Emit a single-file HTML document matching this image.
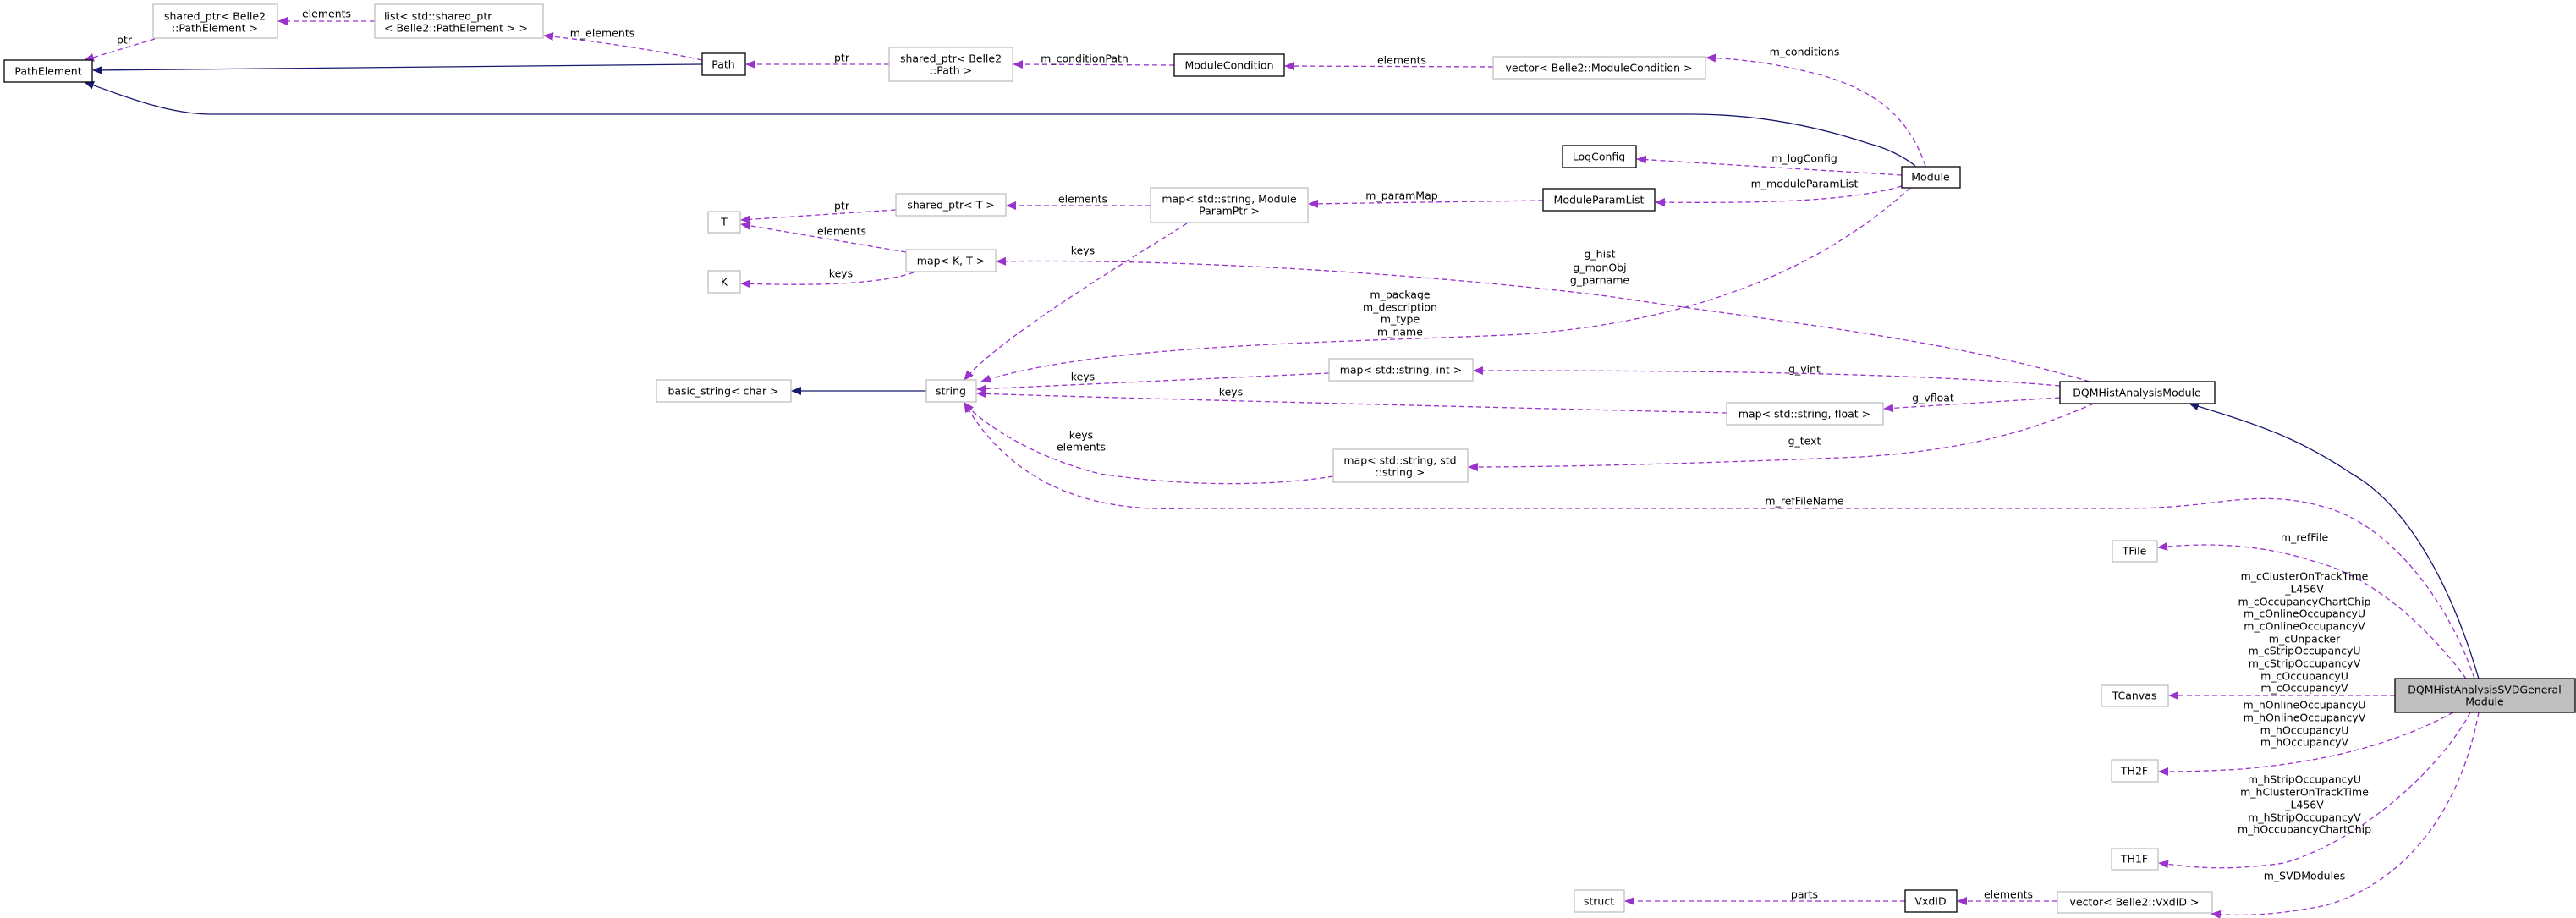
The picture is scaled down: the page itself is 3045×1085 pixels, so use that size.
<!DOCTYPE html>
<html><head><meta charset="utf-8"><style>
html,body{margin:0;padding:0;background:#fff;}
svg{display:block;}
text{font-family:"DejaVu Sans","Liberation Sans",sans-serif;font-size:12.5px;fill:#000;}
.g{fill:#fff;stroke:#bfbfbf;stroke-width:1.3;}
.b{fill:#fff;stroke:#000;stroke-width:1.3;}
.d{fill:none;stroke:#9a32cd;stroke-width:1.3;stroke-dasharray:6,4;marker-end:url(#pa);}
.i{fill:none;stroke:#191970;stroke-width:1.3;marker-end:url(#na);}
</style></head><body>
<svg width="3045" height="1085" viewBox="0 0 3045 1085" xmlns="http://www.w3.org/2000/svg">
<defs>
<marker id="pa" markerWidth="12" markerHeight="10" refX="11" refY="5" orient="auto" markerUnits="userSpaceOnUse"><path d="M0,0 L12,5 L0,10 z" fill="#9a32cd"/></marker>
<marker id="na" markerWidth="12" markerHeight="10" refX="11" refY="5" orient="auto" markerUnits="userSpaceOnUse"><path d="M0,0 L12,5 L0,10 z" fill="#191970"/></marker>
</defs>

<!-- edges -->
<path class="d" d="M443,25 L329,25"/>
<path class="d" d="M183,46 L100,71"/>
<path class="d" d="M830,71 C780,60 700,48 643,42"/>
<path class="i" d="M830,76 L110,83"/>
<path class="d" d="M1051,76 L882,76"/>
<path class="d" d="M1388,77 L1198,76"/>
<path class="d" d="M1765,79 L1519,78"/>
<path class="d" d="M2276,196 C2260,150 2230,110 2150,88 C2100,75 2060,70 2017,68"/>
<path class="i" d="M2264,196 C2250,185 2230,175 2210,170 C2150,150 2080,135 2000,135 L250,135 C200,135 150,115 100,97"/>
<path class="d" d="M2248,207 L1935,188"/>
<path class="d" d="M2248,220 C2180,240 2060,240 1957,239"/>
<path class="d" d="M1824,237 L1547,241"/>
<path class="d" d="M1360,243 L1190,243"/>
<path class="d" d="M1059,248 L876,260"/>
<path class="d" d="M1071,298 L876,265"/>
<path class="d" d="M1080,322 C1040,336 960,338 876,335"/>
<path class="d" d="M1403,264 C1330,310 1180,400 1140,449"/>
<path class="d" d="M2258,222 C2150,320 2000,380 1800,395 C1600,405 1300,405 1160,451"/>
<path class="d" d="M2470,451 C2300,400 2100,380 1900,350 C1700,325 1400,305 1178,309"/>
<path class="i" d="M1095,462 L936,462"/>
<path class="d" d="M2435,456 C2250,440 2000,438 1742,438"/>
<path class="d" d="M1571,441 L1155,460"/>
<path class="d" d="M2435,470 L2227,483"/>
<path class="d" d="M2041,488 C1700,480 1300,470 1155,465"/>
<path class="d" d="M2475,477 C2420,500 2350,530 2200,540 C2000,548 1850,552 1736,552"/>
<path class="d" d="M1576,563 C1500,575 1400,575 1300,560 C1220,540 1160,500 1140,476"/>
<path class="i" d="M2930,802 C2900,700 2850,600 2780,560 C2720,520 2680,505 2588,477"/>
<path class="d" d="M2925,802 C2890,700 2820,620 2750,600 C2700,585 2660,588 2600,596 C2560,600 2540,601 2500,601 L1400,601 C1300,605 1200,580 1140,476"/>
<path class="d" d="M2915,802 C2870,740 2800,680 2740,665 C2680,645 2620,640 2551,647"/>
<path class="d" d="M2831,822 L2564,822"/>
<path class="d" d="M2900,842 C2830,880 2750,900 2650,909 C2600,912 2570,912 2552,912"/>
<path class="d" d="M2920,842 C2890,900 2800,990 2700,1020 C2630,1030 2590,1025 2552,1020"/>
<path class="d" d="M2930,842 C2910,950 2850,1040 2750,1070 C2680,1084 2640,1082 2614,1080"/>
<path class="d" d="M2432,1065 L2314,1065"/>
<path class="d" d="M2252,1065 L1921,1065"/>

<!-- nodes -->
<rect class="g" x="181" y="5" width="147" height="40"/>
<text x="254" y="19" text-anchor="middle" dominant-baseline="central">shared_ptr&lt; Belle2</text>
<text x="254" y="33" text-anchor="middle" dominant-baseline="central">::PathElement &gt;</text>
<rect class="g" x="443" y="5" width="199" height="40"/>
<text x="454" y="19" dominant-baseline="central">list&lt; std::shared_ptr</text>
<text x="454" y="33" dominant-baseline="central">&lt; Belle2::PathElement &gt; &gt;</text>
<rect class="b" x="5" y="71" width="104" height="26"/>
<text x="57" y="84" text-anchor="middle" dominant-baseline="central">PathElement</text>
<rect class="b" x="830" y="63" width="51" height="26"/>
<text x="855" y="76" text-anchor="middle" dominant-baseline="central">Path</text>
<rect class="g" x="1051" y="56" width="146" height="40"/>
<text x="1124" y="69" text-anchor="middle" dominant-baseline="central">shared_ptr&lt; Belle2</text>
<text x="1124" y="83" text-anchor="middle" dominant-baseline="central">::Path &gt;</text>
<rect class="b" x="1388" y="64" width="130" height="26"/>
<text x="1453" y="77" text-anchor="middle" dominant-baseline="central">ModuleCondition</text>
<rect class="g" x="1765" y="67" width="251" height="26"/>
<text x="1890" y="80" text-anchor="middle" dominant-baseline="central">vector&lt; Belle2::ModuleCondition &gt;</text>
<rect class="b" x="1847" y="172" width="87" height="26"/>
<text x="1890" y="185" text-anchor="middle" dominant-baseline="central">LogConfig</text>
<rect class="b" x="2248" y="197" width="69" height="25"/>
<text x="2282" y="209" text-anchor="middle" dominant-baseline="central">Module</text>
<rect class="b" x="1824" y="223" width="132" height="26"/>
<text x="1890" y="236" text-anchor="middle" dominant-baseline="central">ModuleParamList</text>
<rect class="g" x="1360" y="222" width="186" height="41"/>
<text x="1453" y="235" text-anchor="middle" dominant-baseline="central">map&lt; std::string, Module</text>
<text x="1453" y="249" text-anchor="middle" dominant-baseline="central">ParamPtr &gt;</text>
<rect class="g" x="1059" y="229" width="130" height="26"/>
<text x="1124" y="242" text-anchor="middle" dominant-baseline="central">shared_ptr&lt; T &gt;</text>
<rect class="g" x="837" y="250" width="38" height="25"/>
<text x="856" y="262" text-anchor="middle" dominant-baseline="central">T</text>
<rect class="g" x="1071" y="295" width="106" height="26"/>
<text x="1124" y="308" text-anchor="middle" dominant-baseline="central">map&lt; K, T &gt;</text>
<rect class="g" x="837" y="320" width="38" height="26"/>
<text x="856" y="333" text-anchor="middle" dominant-baseline="central">K</text>
<rect class="g" x="776" y="449" width="159" height="26"/>
<text x="855" y="462" text-anchor="middle" dominant-baseline="central">basic_string&lt; char &gt;</text>
<rect class="g" x="1095" y="449" width="59" height="26"/>
<text x="1124" y="462" text-anchor="middle" dominant-baseline="central">string</text>
<rect class="g" x="1571" y="424" width="170" height="26"/>
<text x="1656" y="437" text-anchor="middle" dominant-baseline="central">map&lt; std::string, int &gt;</text>
<rect class="b" x="2435" y="451" width="183" height="26"/>
<text x="2526" y="464" text-anchor="middle" dominant-baseline="central">DQMHistAnalysisModule</text>
<rect class="g" x="2041" y="476" width="185" height="26"/>
<text x="2133" y="489" text-anchor="middle" dominant-baseline="central">map&lt; std::string, float &gt;</text>
<rect class="g" x="1576" y="531" width="159" height="39"/>
<text x="1655" y="544" text-anchor="middle" dominant-baseline="central">map&lt; std::string, std</text>
<text x="1655" y="558" text-anchor="middle" dominant-baseline="central">::string &gt;</text>
<rect class="g" x="2497" y="639" width="53" height="25"/>
<text x="2523" y="651" text-anchor="middle" dominant-baseline="central">TFile</text>
<rect class="g" x="2484" y="810" width="79" height="25"/>
<text x="2523" y="822" text-anchor="middle" dominant-baseline="central">TCanvas</text>
<rect x="2831" y="802" width="213" height="40" fill="#bfbfbf" stroke="#000" stroke-width="1.3"/>
<text x="2937" y="815" text-anchor="middle" dominant-baseline="central">DQMHistAnalysisSVDGeneral</text>
<text x="2937" y="829" text-anchor="middle" dominant-baseline="central">Module</text>
<rect class="g" x="2496" y="898" width="55" height="26"/>
<text x="2523" y="911" text-anchor="middle" dominant-baseline="central">TH2F</text>
<rect class="g" x="2496" y="1003" width="55" height="25"/>
<text x="2523" y="1015" text-anchor="middle" dominant-baseline="central">TH1F</text>
<rect class="g" x="1861" y="1052" width="59" height="26"/>
<text x="1890" y="1065" text-anchor="middle" dominant-baseline="central">struct</text>
<rect class="b" x="2252" y="1052" width="61" height="26"/>
<text x="2282" y="1065" text-anchor="middle" dominant-baseline="central">VxdID</text>
<rect class="g" x="2432" y="1054" width="183" height="25"/>
<text x="2523" y="1066" text-anchor="middle" dominant-baseline="central">vector&lt; Belle2::VxdID &gt;</text>

<!-- edge labels -->
<g text-anchor="middle" dominant-baseline="central">
<text x="386" y="16">elements</text>
<text x="147" y="47">ptr</text>
<text x="712" y="39">m_elements</text>
<text x="995" y="68">ptr</text>
<text x="1282" y="69">m_conditionPath</text>
<text x="1657" y="71">elements</text>
<text x="2133" y="61">m_conditions</text>
<text x="2133" y="187">m_logConfig</text>
<text x="2133" y="217">m_moduleParamList</text>
<text x="1657" y="231">m_paramMap</text>
<text x="1280" y="235">elements</text>
<text x="995" y="243">ptr</text>
<text x="995" y="273">elements</text>
<text x="994" y="323">keys</text>
<text x="1280" y="296">keys</text>
<text x="1891" y="300">g_hist</text>
<text x="1891" y="316">g_monObj</text>
<text x="1891" y="331">g_parname</text>
<text x="1655" y="348">m_package</text>
<text x="1655" y="363">m_description</text>
<text x="1655" y="377">m_type</text>
<text x="1655" y="392">m_name</text>
<text x="2133" y="436">g_vint</text>
<text x="1280" y="445">keys</text>
<text x="1455" y="463">keys</text>
<text x="2285" y="470">g_vfloat</text>
<text x="1278" y="514">keys</text>
<text x="1278" y="528">elements</text>
<text x="2133" y="521">g_text</text>
<text x="2133" y="592">m_refFileName</text>
<text x="2724" y="635">m_refFile</text>
<text x="2724" y="681">m_cClusterOnTrackTime</text>
<text x="2724" y="696">_L456V</text>
<text x="2724" y="711">m_cOccupancyChartChip</text>
<text x="2724" y="725">m_cOnlineOccupancyU</text>
<text x="2724" y="740">m_cOnlineOccupancyV</text>
<text x="2724" y="755">m_cUnpacker</text>
<text x="2724" y="769">m_cStripOccupancyU</text>
<text x="2724" y="784">m_cStripOccupancyV</text>
<text x="2724" y="799">m_cOccupancyU</text>
<text x="2724" y="813">m_cOccupancyV</text>
<text x="2724" y="833">m_hOnlineOccupancyU</text>
<text x="2724" y="848">m_hOnlineOccupancyV</text>
<text x="2724" y="863">m_hOccupancyU</text>
<text x="2724" y="877">m_hOccupancyV</text>
<text x="2724" y="921">m_hStripOccupancyU</text>
<text x="2724" y="936">m_hClusterOnTrackTime</text>
<text x="2724" y="951">_L456V</text>
<text x="2724" y="966">m_hStripOccupancyV</text>
<text x="2724" y="980">m_hOccupancyChartChip</text>
<text x="2724" y="1035">m_SVDModules</text>
<text x="2374" y="1057">elements</text>
<text x="2133" y="1057">parts</text>
</g>
</svg>
</body></html>
